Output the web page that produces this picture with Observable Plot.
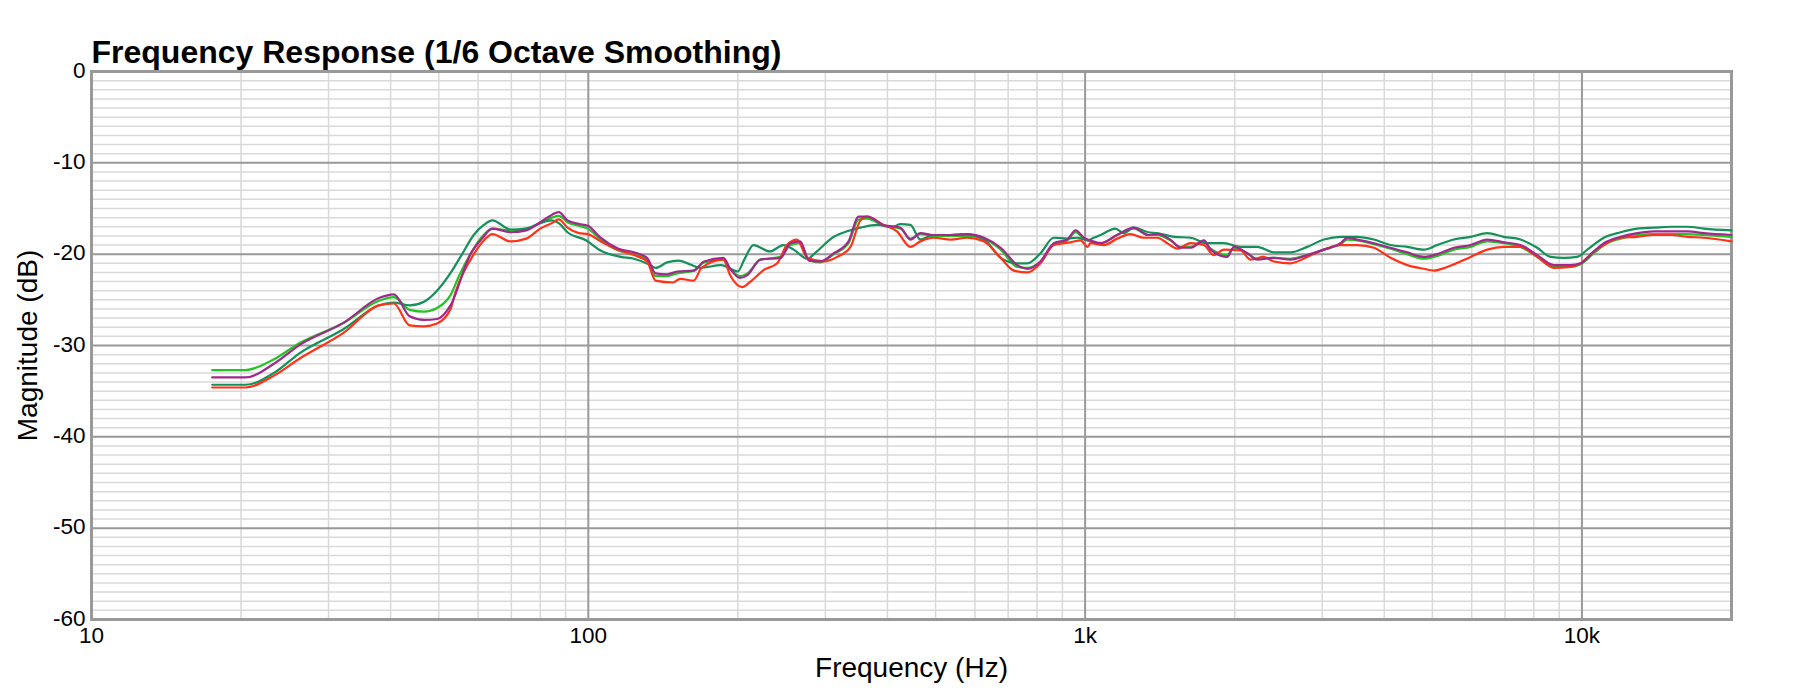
<!DOCTYPE html>
<html>
<head>
<meta charset="utf-8">
<script src="https://cdn.jsdelivr.net/npm/d3@7"></script>
<script src="https://cdn.jsdelivr.net/npm/@observablehq/plot@0.6"></script>
<style>
  html, body { margin: 0; padding: 0; background: #fff; }
  #chart svg { display: block; font-family: "Liberation Sans", Arial, Helvetica, sans-serif; }
</style>
</head>
<body>
<div id="chart"></div>
<script>
// ---- Chart data (frequency Hz, magnitude dB) ----
const title = "Frequency Response (1/6 Octave Smoothing)";
const xLabel = "Frequency (Hz)";
const yLabel = "Magnitude (dB)";
const xTicks = [10, 100, 1000, 10000];
const xTickLabels = ["10", "100", "1k", "10k"];
const yTicks = [0, -10, -20, -30, -40, -50, -60];

const seriesNames = ["Bright green", "Dark green", "Red", "Purple"];
const seriesColors = ["#22c322", "#14905a", "#ff3218", "#a02a8c"];

const brightGreen = [
  [17.5,-32.7],[20.4,-32.7],[23.3,-31.5],[26.3,-29.7],[32.2,-27.5],[37.9,-25.1],[40.6,-24.7],
  [43.7,-26.1],[46.7,-26.3],[49.6,-25.9],[52.9,-24.4],[55,-22.3],[57.9,-20.0],[61.1,-18.1],
  [64.1,-17.2],[69.8,-17.4],[75,-17.2],[80,-16.6],[84.4,-16.0],[87.2,-15.8],[90.8,-16.5],
  [95.8,-16.9],[99.8,-17.2],[105.8,-18.4],[115,-19.6],[123.5,-20.0],[131,-20.5],[136.6,-22.4],
  [144,-22.4],[151,-22.1],[163,-21.8],[171,-20.9],[187,-20.6],[193,-21.6],[202,-22.4],
  [209,-22.1],[222,-20.6],[244,-20.3],[255,-19.0],[267,-18.8],[278,-20.6],[293,-20.9],
  [312,-20.0],[334,-18.8],[350,-16.2],[364,-16.1],[393,-16.9],[425,-17.2],[445,-18.3],
  [466,-17.8],[496,-18.0],[536,-18.0],[579,-18.0],[626,-18.3],[676,-19.5],[730,-21.4],
  [765,-21.5],[813,-20.8],[865,-18.9],[920,-18.5],[957,-17.6],[994,-18.3],[1075,-18.8],
  [1160,-17.9],[1253,-17.2],[1340,-17.9],[1397,-17.9],[1485,-18.5],[1556,-19.2],[1630,-19.2],
  [1734,-18.7],[1789,-19.4],[1932,-20.1],[1993,-19.3],[2120,-19.9],[2220,-20.5],[2398,-20.4],
  [2591,-20.5],[2799,-20.1],[3024,-19.5],[3267,-18.9],[3371,-18.4],[3529,-18.5],[3813,-18.9],
  [4119,-19.4],[4450,-20.0],[4807,-20.5],[5113,-20.2],[5524,-19.5],[5968,-19.2],[6448,-18.6],
  [6963,-18.8],[7522,-19.2],[8128,-20.3],[8779,-21.4],[9487,-21.4],[9936,-21.1],[10570,-19.9],
  [11070,-19.0],[11960,-18.3],[12920,-17.9],[13950,-17.8],[16290,-17.8],[17590,-17.9],[20000,-18.1]
];

const darkGreen = [
  [17.5,-34.3],[20.4,-34.3],[23.3,-33.0],[26.3,-30.8],[32.2,-28.2],[37.9,-25.6],[40.6,-25.3],
  [43.7,-25.6],[46.7,-25.2],[49.6,-24.0],[52.9,-22.0],[55.7,-20.0],[58.8,-17.9],[61.6,-16.8],
  [64.1,-16.3],[69.8,-17.3],[75,-17.2],[80,-16.6],[84.4,-16.3],[87.2,-16.6],[90.8,-17.6],
  [99.1,-18.5],[105.8,-19.6],[116.2,-20.3],[123.5,-20.5],[133.4,-21.2],[136.6,-21.5],
  [144.1,-20.9],[152,-20.7],[160,-21.1],[168,-21.5],[185,-21.2],[200,-21.9],[206,-20.6],
  [215,-19.0],[232,-19.7],[247,-19.0],[259,-19.5],[276,-20.5],[287,-19.8],[312,-18.1],
  [332,-17.5],[353,-17.1],[382,-16.8],[410,-17.0],[425,-16.7],[445,-16.8],[466,-18.4],
  [496,-17.9],[536,-17.9],[571,-17.8],[626,-18.4],[676,-20.4],[730,-21.0],[765,-21.0],
  [813,-19.9],[865,-18.2],[920,-18.3],[963,-18.2],[1011,-18.5],[1040,-18.2],[1074,-17.9],
  [1150,-17.2],[1197,-17.7],[1253,-17.1],[1340,-17.6],[1397,-17.7],[1509,-18.1],[1630,-18.2],
  [1761,-18.8],[1902,-18.8],[2055,-19.2],[2220,-19.2],[2398,-19.8],[2591,-19.8],[2799,-19.2],
  [3024,-18.4],[3267,-18.1],[3529,-18.1],[3813,-18.4],[4119,-19.0],[4450,-19.2],[4807,-19.5],
  [5113,-19.0],[5524,-18.4],[5968,-18.1],[6448,-17.7],[6963,-18.1],[7522,-18.4],[8128,-19.3],
  [8646,-20.3],[9196,-20.4],[9783,-20.3],[10250,-19.5],[11070,-18.2],[11960,-17.6],
  [12920,-17.2],[13950,-17.1],[15080,-17.0],[16290,-17.0],[17590,-17.2],[20000,-17.4]
];

const red = [
  [17.5,-34.6],[20.4,-34.6],[23.3,-33.3],[26.3,-31.4],[32.2,-28.6],[37.9,-25.6],[40.6,-25.4],
  [43.7,-27.8],[46.7,-27.9],[49.6,-27.6],[52.8,-26.0],[54.0,-24.2],[58.8,-20.0],[61.6,-18.5],
  [64.1,-17.8],[69.8,-18.6],[75,-18.3],[80,-17.2],[84.4,-16.6],[87.2,-16.2],[90.8,-17.1],
  [95.8,-17.7],[99.8,-17.8],[105.8,-18.6],[114.3,-19.5],[123.5,-20.1],[131.3,-20.8],
  [136.6,-22.9],[148,-23.1],[153,-22.7],[163,-22.9],[169,-21.5],[187,-20.6],[193,-22.3],
  [204,-23.6],[212,-23.0],[226,-21.7],[240,-21.0],[251,-19.0],[263,-18.4],[276,-20.4],
  [298,-20.8],[317,-20.3],[337,-19.2],[353,-16.3],[364,-15.9],[393,-16.8],[418,-17.5],
  [445,-19.2],[466,-18.6],[496,-18.2],[536,-18.4],[579,-18.2],[626,-18.6],[676,-20.4],
  [719,-21.8],[765,-22.0],[813,-21.0],[865,-19.0],[934,-18.7],[979,-18.5],[1011,-19.2],
  [1025,-18.8],[1091,-19.0],[1160,-18.3],[1234,-17.8],[1313,-18.2],[1397,-18.2],[1463,-18.8],
  [1532,-19.4],[1630,-18.8],[1734,-19.0],[1816,-20.1],[1902,-19.5],[2055,-19.6],[2153,-20.6],
  [2289,-20.3],[2398,-20.8],[2591,-21.0],[2799,-20.3],[3024,-19.5],[3267,-19.0],[3529,-19.0],
  [3813,-19.3],[4119,-20.4],[4450,-21.2],[4807,-21.6],[5034,-21.8],[5357,-21.4],[5968,-20.3],
  [6448,-19.5],[6963,-19.2],[7522,-19.2],[8128,-20.3],[8779,-21.5],[9487,-21.4],[9936,-21.0],
  [10570,-19.7],[11070,-19.0],[11960,-18.2],[12920,-18.1],[13950,-17.9],[15080,-17.9],
  [16290,-18.1],[17590,-18.2],[20000,-18.6]
];

const purple = [
  [17.5,-33.5],[20.4,-33.5],[23.3,-32.0],[26.3,-29.9],[32.2,-27.5],[37.9,-24.8],[40.6,-24.4],
  [43.7,-26.8],[46.7,-27.2],[49.6,-27.1],[52.8,-25.6],[57.9,-20.0],[61.1,-18.3],[64.1,-17.2],
  [69.8,-17.6],[75,-17.4],[80,-16.5],[84.4,-15.7],[87.2,-15.4],[90.8,-16.3],[95.8,-16.7],
  [99.8,-16.9],[105.8,-18.2],[115,-19.4],[123.5,-19.8],[131.3,-20.4],[136.6,-22.1],[144,-22.2],
  [151,-21.9],[163,-21.8],[171,-20.8],[187,-20.4],[193,-21.6],[202,-22.6],[209,-22.3],
  [222,-20.6],[244,-20.4],[255,-18.8],[267,-18.6],[278,-20.7],[293,-20.8],[312,-19.9],
  [334,-18.6],[350,-15.9],[364,-15.9],[393,-16.8],[425,-17.1],[445,-18.4],[466,-17.7],
  [496,-17.9],[536,-17.9],[579,-17.8],[626,-18.2],[676,-19.3],[730,-21.2],[765,-21.6],
  [813,-20.8],[865,-18.8],[920,-18.4],[957,-17.4],[994,-18.2],[1025,-18.5],[1074,-18.8],
  [1160,-17.9],[1253,-17.1],[1340,-17.9],[1397,-17.8],[1485,-18.4],[1556,-19.3],[1630,-19.3],
  [1734,-18.5],[1789,-19.5],[1932,-20.3],[1993,-19.2],[2120,-19.9],[2220,-20.6],[2398,-20.4],
  [2591,-20.6],[2799,-20.1],[3024,-19.5],[3267,-18.8],[3371,-18.2],[3529,-18.4],[3813,-18.8],
  [4119,-19.3],[4450,-19.8],[4807,-20.3],[5113,-20.0],[5524,-19.3],[5968,-19.0],[6448,-18.4],
  [6963,-18.7],[7522,-19.0],[8128,-20.1],[8779,-21.2],[9487,-21.2],[9936,-21.0],[10570,-19.7],
  [11070,-18.8],[11960,-18.1],[12920,-17.7],[13950,-17.5],[16290,-17.5],[17590,-17.7],[20000,-17.9]
];

const seriesData = [brightGreen, darkGreen, red, purple];

// ---- grid values ----
const minorFreqs = [];
for (const dec of [10, 100, 1000]) for (let k = 2; k <= 9; k++) minorFreqs.push(k * dec);
const minorDb = d3.range(-59, 0).filter(v => v % 10 !== 0);

const rows = seriesData.flatMap((s, i) => s.map(([f, db]) => ({f, db, name: seriesNames[i]})));

const chart = Plot.plot({
  width: 1796,
  height: 696,
  marginLeft: 91,
  marginRight: 65,
  marginTop: 71,
  marginBottom: 77,
  style: {fontFamily: '"Liberation Sans", Arial, Helvetica, sans-serif', color: "#000", background: "#fff"},
  x: {type: "log", domain: [10, 20000], axis: null},
  y: {domain: [-60, 0], axis: null},
  color: {domain: seriesNames, range: seriesColors},
  marks: [
    Plot.ruleY(minorDb, {stroke: "#d9d9d9", strokeWidth: 1.5}),
    Plot.ruleX(minorFreqs, {stroke: "#d9d9d9", strokeWidth: 1.5}),
    Plot.ruleY(yTicks, {stroke: "#999", strokeWidth: 2}),
    Plot.ruleX(xTicks, {stroke: "#999", strokeWidth: 2}),
    Plot.frame({stroke: "#999", strokeWidth: 3}),
    Plot.line(rows, {x: "f", y: "db", z: "name", stroke: "name", strokeWidth: 2.2, curve: "monotone-x"}),
    Plot.axisX({ticks: xTicks, tickFormat: d => xTickLabels[xTicks.indexOf(d)], tickSize: 0, tickPadding: 8, fontSize: 22.5, label: null}),
    Plot.axisY({ticks: yTicks, tickFormat: d => String(d), tickSize: 0, tickPadding: 6, dy: -1, fontSize: 22.5, label: null}),
    Plot.text([xLabel], {frameAnchor: "bottom", textAnchor: "middle", dy: 49, lineAnchor: "middle", fontSize: 28, fill: "#000"}),
    Plot.text([yLabel], {frameAnchor: "left", textAnchor: "middle", dx: -63, rotate: -90, lineAnchor: "middle", fontSize: 28, fill: "#000"}),
    Plot.text([title], {frameAnchor: "top-left", textAnchor: "start", lineAnchor: "bottom", dy: -9, fontSize: 32, fontWeight: "bold", fill: "#000"})
  ]
});
document.getElementById("chart").appendChild(chart);
</script>
</body>
</html>
